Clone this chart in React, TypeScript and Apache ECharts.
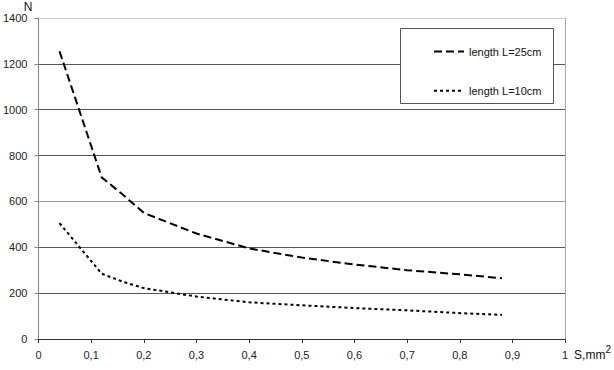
import React, { useEffect, useRef } from "react";
import * as echarts from "echarts";

const sValues = [0.04, 0.12, 0.16, 0.2, 0.3, 0.4, 0.5, 0.6, 0.7, 0.8, 0.88];
const n25 = [1255, 705, 630, 550, 460, 395, 355, 325, 300, 282, 265];
const n10 = [505, 285, 250, 222, 185, 160, 147, 135, 125, 113, 105];
const seriesNames = ["length L=25cm", "length L=10cm"];

const FONT = "Liberation Sans";

function fmtX(v: number): string {
  if (Math.abs(v) < 1e-9) return "0";
  if (Math.abs(v - 1) < 1e-9) return "1";
  return v.toFixed(1).replace(".", ",");
}

export default function App() {
  const ref = useRef<HTMLDivElement>(null);
  useEffect(() => {
    if (!ref.current) return;
    const chart = echarts.init(ref.current, undefined, { renderer: "svg" });
    const d25 = sValues.map((s, i) => [s, n25[i]]);
    const d10 = sValues.map((s, i) => [s, n10[i]]);
    chart.setOption({
      animation: false,
      backgroundColor: "#ffffff",
      textStyle: { fontFamily: FONT },
      grid: { left: 38, right: 48, top: 18, bottom: 31, containLabel: false },
      xAxis: {
        type: "value",
        min: 0,
        max: 1,
        interval: 0.1,
        name: "{a|S,mm}{b|2}",
        nameLocation: "end",
        nameGap: 4,
        nameTextStyle: {
          align: "left",
          verticalAlign: "top",
          padding: [5, 0, 0, 0],
          rich: {
            a: { fontSize: 12, lineHeight: 22, color: "#111", fontFamily: FONT },
            b: { fontSize: 10, lineHeight: 10, verticalAlign: "top", color: "#111", fontFamily: FONT },
          },
        },
        axisLine: { show: true, lineStyle: { color: "#333", width: 1 } },
        axisTick: { show: true, length: 4, lineStyle: { color: "#333" } },
        axisLabel: { formatter: fmtX, fontSize: 11, color: "#222", margin: 10, fontFamily: FONT },
        splitLine: { show: false },
      },
      yAxis: [
        {
          type: "value",
          min: 0,
          max: 1400,
          interval: 200,
          name: "N",
          nameLocation: "end",
          nameGap: 4,
          nameTextStyle: { align: "right", padding: [0, 6, 0, 0], fontSize: 12, color: "#111", fontFamily: FONT },
          axisLine: { show: true, lineStyle: { color: "#888", width: 1 } },
          axisTick: { show: true, length: 4, lineStyle: { color: "#888" } },
          axisLabel: {
            fontSize: 11,
            color: "#222",
            margin: 11,
            fontFamily: FONT,
            formatter: (v: number) => String(v),
          },
          splitLine: {
            show: true,
            lineStyle: {
              color: ["#333", "#555", "#555", "#9a9a9a", "#555", "#555", "#555", "#cccccc"],
              width: 1,
            },
          },
        },
        {
          type: "value",
          min: 0,
          max: 1400,
          interval: 200,
          position: "right",
          axisLine: { show: true, lineStyle: { color: "#aaa", width: 1 } },
          axisTick: { show: false },
          axisLabel: { show: false },
          splitLine: { show: false },
        },
      ],
      legend: {
        orient: "vertical",
        left: 428,
        top: 41,
        itemWidth: 30,
        itemHeight: 14,
        itemGap: 28,
        z: 20,
        data: seriesNames,
        itemStyle: { opacity: 0 },
        textStyle: { fontSize: 11, color: "#111", fontFamily: FONT },
      },
      graphic: [
        {
          type: "rect",
          z: 15,
          shape: { x: 400.5, y: 28.5, width: 153, height: 75 },
          style: { fill: "#ffffff", stroke: "#555", lineWidth: 1 },
        },
      ],
      series: [
        {
          name: seriesNames[0],
          type: "line",
          data: d25,
          symbol: "none",
          lineStyle: { color: "#000", width: 2, type: [8, 4] },
          itemStyle: { color: "#000" },
        },
        {
          name: seriesNames[1],
          type: "line",
          data: d10,
          symbol: "none",
          lineStyle: { color: "#000", width: 2, type: [3, 3] },
          itemStyle: { color: "#000" },
        },
      ],
    });
    return () => chart.dispose();
  }, []);
  return (
    <div
      ref={ref}
      style={{ position: "absolute", left: 0, top: 0, width: 614, height: 370 }}
    />
  );
}
